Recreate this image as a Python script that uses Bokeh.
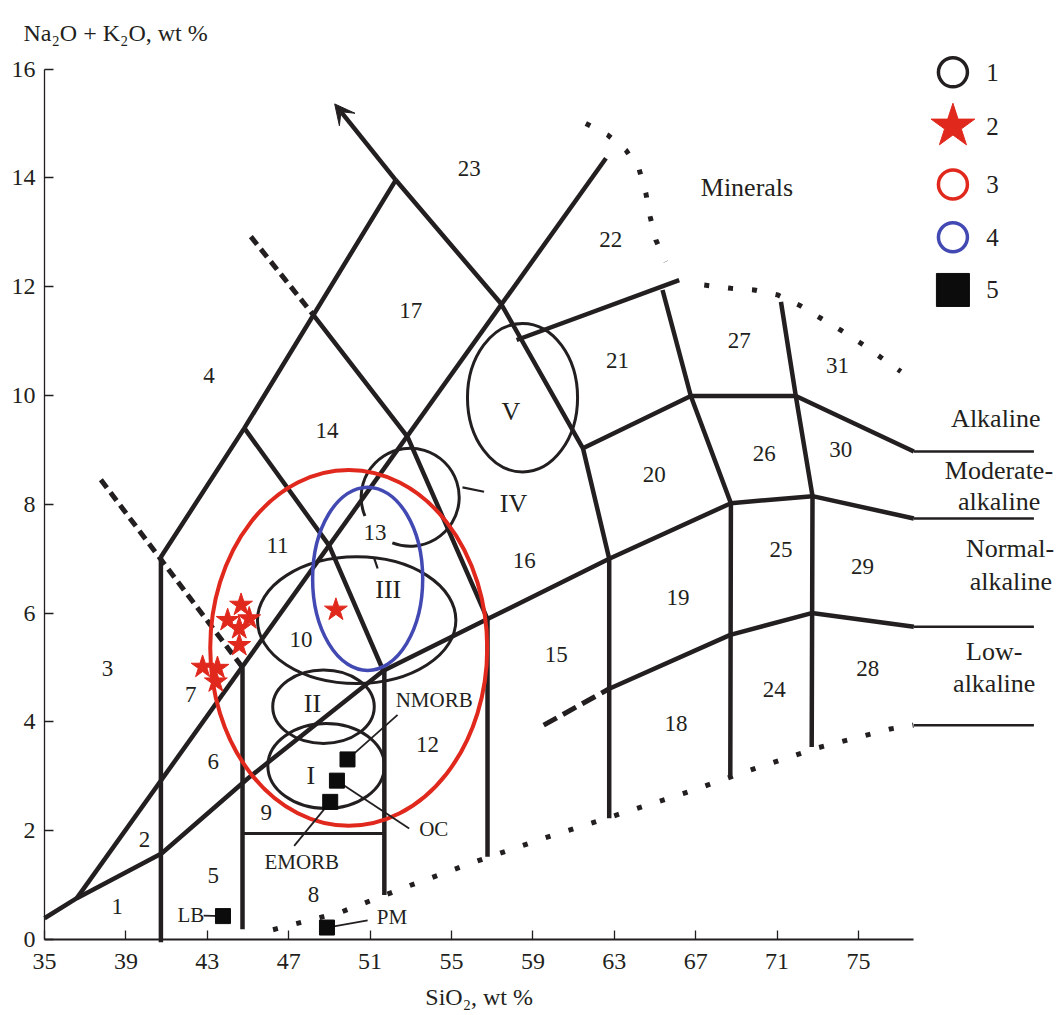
from bokeh.plotting import figure
from bokeh.models import ColumnDataSource, FixedTicker, Arrow, VeeHead
from bokeh.core.properties import value
from bokeh.embed import file_html
from bokeh.resources import INLINE

# ---------------- values (SiO2 wt %, Na2O+K2O wt %) ----------------
x_ticks = [35, 39, 43, 47, 51, 55, 59, 63, 67, 71, 75]
y_ticks = [0, 2, 4, 6, 8, 10, 12, 14, 16]
x_axis_end = 77.72

# thick solid field boundaries
bnd_a_x = [36.59, 62.59]
bnd_a_y = [0.76, 14.36]
bnd_b_x = [35.0, 36.59, 40.75, 44.99, 51.65, 56.77, 62.75, 68.73, 72.74, 77.72]
bnd_b_y = [0.39, 0.76, 1.58, 2.96, 4.94, 5.89, 7.00, 8.02, 8.15, 7.74]
bnd_c_x = [52.26, 57.43, 61.46, 62.75, 62.75]
bnd_c_y = [13.96, 11.69, 9.03, 7.00, 2.23]
bnd_d_x = [40.72, 44.82, 52.26]
bnd_d_y = [7.03, 9.40, 13.96]
bnd_e_x = [44.82, 48.99, 51.65]
bnd_e_y = [9.40, 7.24, 4.94]
bnd_f_x = [48.17, 52.84, 56.77, 56.77]
bnd_f_y = [11.50, 9.24, 5.89, 1.52]
bnd_g_x = [58.20, 66.19]
bnd_g_y = [11.02, 12.12]
bnd_h_x = [61.46, 66.76, 71.92, 77.72]
bnd_h_y = [9.03, 9.99, 9.99, 8.97]
bnd_i_x = [65.37, 66.76, 68.73, 68.70]
bnd_i_y = [11.94, 9.99, 8.02, 3.02]
bnd_j_x = [71.19, 71.92, 72.74, 72.70]
bnd_j_y = [11.72, 9.99, 8.15, 3.54]
bnd_k_x = [62.75, 68.70, 72.70, 77.72]
bnd_k_y = [4.61, 5.60, 6.00, 5.75]
bnd_v1_x = [40.72, 40.72]
bnd_v1_y = [7.03, -0.05]
bnd_v2_x = [44.73, 44.73]
bnd_v2_y = [5.00, 0.19]
bnd_v3_x = [51.70, 51.70]
bnd_v3_y = [4.94, 0.82]
arrow_tip_x = 49.26
arrow_tip_y = 15.36

# thin lines
thin_h_x = [44.73, 51.70]
thin_h_y = [1.95, 1.95]
right_ext_x = [77.72, 83.62]
right_ext_levels = [8.97, 7.74, 5.75, 3.94]

# dashed boundaries
dash_a_x = [37.77, 44.73]
dash_a_y = [8.45, 5.00]
dash_b_x = [45.14, 48.17]
dash_b_y = [12.92, 11.50]
dash_c_x = [59.53, 62.75]
dash_c_y = [3.94, 4.61]

# dotted boundaries (minerals / lower limit)
dot_a_x = [61.60, 62.67, 63.57, 64.22, 64.55, 64.76, 65.04, 65.53]
dot_a_y = [15.00, 14.79, 14.51, 14.16, 13.72, 13.29, 12.86, 12.46]
dot_b_x = [67.42, 68.73, 69.87, 71.02, 72.09, 73.15, 74.13, 75.12, 76.10, 77.08]
dot_b_y = [12.03, 11.97, 11.94, 11.85, 11.66, 11.42, 11.20, 10.96, 10.70, 10.44]
dot_c_x = [46.23, 49.62, 52.86, 56.25, 59.62, 62.96, 66.37, 69.71, 72.96, 76.56, 77.70]
dot_c_y = [0.18, 0.51, 0.98, 1.44, 1.87, 2.27, 2.68, 3.12, 3.52, 3.87, 3.94]

# fields I, II, III, V (black ellipses), IV (open arc)
ell_x = [48.84, 48.71, 50.34, 58.49]
ell_y = [3.19, 4.28, 5.87, 9.96]
ell_w = [5.73, 4.99, 9.75, 5.41]
ell_h = [1.56, 1.35, 2.33, 2.73]
arc_iv_x = [52.97]
arc_iv_y = [8.13]
red_ell_x = [49.95]
red_ell_y = [5.36]
red_ell_w = [13.61]
red_ell_h = [6.54]
blue_ell_x = [50.88]
blue_ell_y = [6.63]
blue_ell_w = [5.41]
blue_ell_h = [3.37]

# samples (red stars)
star_x = [44.66, 44.00, 45.06, 44.57, 44.57, 42.77, 43.50, 43.42, 49.32]
star_y = [6.15, 5.87, 5.90, 5.72, 5.41, 5.01, 4.99, 4.74, 6.06]

# reference compositions (black squares)
ref_names = ["NMORB", "OC", "EMORB", "LB", "PM"]
ref_x = [49.89, 49.37, 49.04, 43.77, 48.88]
ref_y = [3.31, 2.92, 2.53, 0.43, 0.22]
ref_label_x = [54.15, 54.13, 47.64, 42.19, 52.07]
ref_label_y = [4.40, 2.04, 1.43, 0.45, 0.42]
lead_end_x = [52.35, 52.92, 47.27, 42.82, 50.88]
lead_end_y = [4.13, 2.04, 1.72, 0.44, 0.35]

# field numbers
region_names = [str(i) for i in range(1, 32)]
region_x = [38.58, 39.91, 38.10, 43.08, 43.29, 43.29, 42.19, 48.22, 45.90, 47.60,
            46.45, 53.82, 51.24, 48.88, 60.15, 58.57, 53.00, 66.03, 66.13, 64.96,
            63.16, 62.83, 55.87, 70.86, 71.19, 70.37, 69.14, 75.45, 75.20, 74.13, 73.97]
region_y = [0.60, 1.83, 4.99, 10.37, 1.17, 3.27, 4.51, 0.82, 2.33, 5.52,
            7.25, 3.58, 7.49, 9.35, 5.23, 6.96, 11.57, 3.97, 6.29, 8.54,
            10.65, 12.86, 14.18, 4.59, 7.16, 8.94, 11.02, 4.99, 6.85, 9.00, 10.56]
roman_names = ["I", "II", "III", "IV", "V"]
roman_x = [48.09, 48.17, 51.89, 58.05, 57.92]
roman_y = [3.02, 4.34, 6.44, 8.02, 9.70]
lead_iv_x = [55.54, 56.60]
lead_iv_y = [8.31, 8.23]
lead_iii_x = [51.20, 51.37]
lead_iii_y = [7.01, 6.82]

series_names = ["Minerals", "Alkaline", "Moderate-", "alkaline", "Normal-", "alkaline", "Low-", "alkaline"]
series_x = [69.52, 81.75, 81.90, 81.91, 82.45, 82.49, 81.67, 81.67]
series_y = [13.83, 9.58, 8.63, 8.05, 7.19, 6.58, 5.29, 4.71]

legend_names = ["1", "2", "3", "4", "5"]
y_title = "Na\u2082O + K\u2082O, wt %"
x_title = "SiO\u2082, wt %"

# ---------------- styling / layout ----------------
INK = "#231f20"
RED = "#e0281d"
BLUE = "#4249b3"
SERIF = "Liberation Serif"
PX_X = 20.35    # pixels per wt % SiO2
PX_Y = 54.4     # pixels per wt % alkalis
W, H = 1060, 1015
LEFT, BOTTOM = 44, 76   # where SiO2 = 35 and alkalis = 0 sit

p = figure(width=W, height=H,
           x_range=(35 - LEFT / PX_X, 35 + (W - LEFT) / PX_X),
           y_range=(-BOTTOM / PX_Y, (H - BOTTOM) / PX_Y),
           output_backend="svg", toolbar_location=None,
           min_border_left=0, min_border_right=0, min_border_top=0, min_border_bottom=0,
           background_fill_color="white", border_fill_color="white")
p.outline_line_color = None
p.xgrid.visible = False
p.ygrid.visible = False

p.xaxis[0].fixed_location = 0
p.yaxis[0].fixed_location = 35
for ax, ticks, bounds in ((p.xaxis[0], x_ticks, (35, x_axis_end)), (p.yaxis[0], y_ticks, (0, 16))):
    ax.ticker = FixedTicker(ticks=ticks)
    ax.bounds = bounds
    ax.major_tick_in = 9
    ax.major_tick_out = 0
    ax.minor_tick_line_color = None
    ax.axis_line_color = INK
    ax.major_tick_line_color = INK
    ax.major_tick_line_width = 1.3
    ax.major_label_text_font = SERIF
    ax.major_label_text_font_size = "24px"
    ax.major_label_text_color = INK
p.xaxis[0].axis_line_width = 1.8
p.yaxis[0].axis_line_width = 1.3
p.xaxis[0].major_label_standoff = 14
p.yaxis[0].major_label_standoff = 9

# axis titles as text
p.text(x=[35 - 21 / PX_X], y=[(H - BOTTOM - 32) / PX_Y], text=[y_title], text_font=value(SERIF),
       text_font_size=value("24px"), text_color=INK, text_align="left", text_baseline="alphabetic")
p.text(x=[(35 + x_axis_end) / 2], y=[-57 / PX_Y], text=[x_title], text_font=value(SERIF),
       text_font_size=value("24px"), text_color=INK, text_align="center", text_baseline="alphabetic")

# thick boundaries
thick = [(bnd_a_x, bnd_a_y), (bnd_b_x, bnd_b_y), (bnd_c_x, bnd_c_y), (bnd_d_x, bnd_d_y),
         (bnd_e_x, bnd_e_y), (bnd_f_x, bnd_f_y), (bnd_g_x, bnd_g_y), (bnd_h_x, bnd_h_y),
         (bnd_i_x, bnd_i_y), (bnd_j_x, bnd_j_y), (bnd_k_x, bnd_k_y),
         (bnd_v1_x, bnd_v1_y), (bnd_v2_x, bnd_v2_y), (bnd_v3_x, bnd_v3_y)]
p.multi_line(xs=[t[0] for t in thick], ys=[t[1] for t in thick],
             line_color=INK, line_width=4.5, line_join="round")
p.add_layout(Arrow(end=VeeHead(size=20, fill_color=INK, line_color=INK),
                   x_start=bnd_c_x[0], y_start=bnd_c_y[0], x_end=arrow_tip_x, y_end=arrow_tip_y,
                   line_color=INK, line_width=4.5))

# thin lines
p.line(thin_h_x, thin_h_y, line_color=INK, line_width=3)
p.multi_line(xs=[right_ext_x for _ in right_ext_levels], ys=[[v, v] for v in right_ext_levels],
             line_color=INK, line_width=2.5)

# dashed
p.multi_line(xs=[dash_a_x, dash_b_x], ys=[dash_a_y, dash_b_y], line_color=INK, line_width=5, line_dash="10 6")
p.line(dash_c_x, dash_c_y, line_color=INK, line_width=5, line_dash="15 7")

# dotted
p.multi_line(xs=[dot_a_x, dot_b_x, dot_c_x], ys=[dot_a_y, dot_b_y, dot_c_y],
             line_color=INK, line_width=5, line_dash="5 19", line_join="round")

# ellipses
p.ellipse(x=ell_x, y=ell_y, width=ell_w, height=ell_h, fill_color=None, line_color=INK, line_width=3)
p.arc(x=arc_iv_x, y=arc_iv_y, radius=49, radius_units="screen", start_angle=248.6, end_angle=202.5,
      start_angle_units="deg", end_angle_units="deg", direction="anticlock", line_color=INK, line_width=3)
p.multi_line(xs=[lead_iv_x, lead_iii_x], ys=[lead_iv_y, lead_iii_y], line_color=INK, line_width=2.2)
p.ellipse(x=red_ell_x, y=red_ell_y, width=red_ell_w, height=red_ell_h,
          fill_color=None, line_color=RED, line_width=4)
p.ellipse(x=blue_ell_x, y=blue_ell_y, width=blue_ell_w, height=blue_ell_h,
          fill_color=None, line_color=BLUE, line_width=3.5)

# leader lines and reference squares
p.multi_line(xs=[[a, b] for a, b in zip(ref_x, lead_end_x)], ys=[[a, b] for a, b in zip(ref_y, lead_end_y)],
             line_color=INK, line_width=1.8)
p.scatter(ref_x, ref_y, marker="square", size=15, fill_color="#0c0c0c", line_color="#0c0c0c")
p.scatter(star_x, star_y, marker="star", size=24, fill_color=RED, line_color=RED)

# texts
def texts(names, xs, ys, size):
    src = ColumnDataSource(dict(x=xs, y=ys, t=names))
    p.text(x="x", y="y", text="t", source=src, text_font=value(SERIF), text_font_size=value(size),
           text_color=INK, text_align="center", text_baseline="middle")

texts(region_names, region_x, region_y, "23px")
texts(roman_names, roman_x, roman_y, "26px")
texts(ref_names, ref_label_x, ref_label_y, "21px")
texts(series_names, series_x, series_y, "26px")

# legend (layout in plot coordinates)
lg_x = 79.64
lg_lx = 81.59
lg_y = [15.94, 14.95, 13.88, 12.91, 11.94]
p.scatter([lg_x], [lg_y[0]], marker="circle", size=29, fill_color=None, line_color=INK, line_width=3.5)
p.scatter([lg_x], [lg_y[1]], marker="star", size=46, fill_color=RED, line_color=RED)
p.scatter([lg_x], [lg_y[2]], marker="circle", size=29, fill_color=None, line_color=RED, line_width=3.5)
p.scatter([lg_x], [lg_y[3]], marker="circle", size=29, fill_color=None, line_color=BLUE, line_width=3.5)
p.scatter([lg_x], [lg_y[4]], marker="square", size=33, fill_color="#0c0c0c", line_color="#0c0c0c")
texts(legend_names, [lg_lx] * 5, lg_y, "25px")

open("out.html", "w").write(file_html(p, INLINE))
